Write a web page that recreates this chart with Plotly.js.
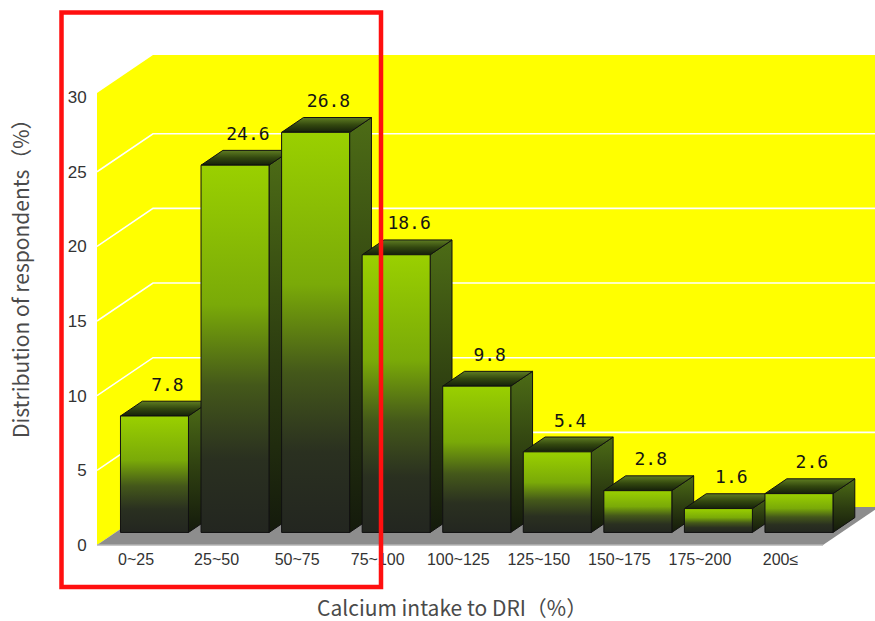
<!DOCTYPE html>
<html>
<head>
<meta charset="utf-8">
<script src="https://cdn.plot.ly/plotly-3.0.1.min.js"></script>
<style>
  html, body { margin: 0; padding: 0; background: #ffffff; }
  #chart { width: 875px; height: 621px; }
</style>
</head>
<body>
<div id="chart"></div>
<script>
// Calcium intake relative to DRI: share of respondents per band
const categories = ['0~25', '25~50', '50~75', '75~100', '100~125', '125~150', '150~175', '175~200', '200≤'];
const values = [7.8, 24.6, 26.8, 18.6, 9.8, 5.4, 2.8, 1.6, 2.6];
const yTicks = [0, 5, 10, 15, 20, 25, 30];
const xTitle = 'Calcium intake to DRI（%）';
const yTitle = 'Distribution of respondents（%）';

// ---- page geometry (pixels) ----
const W = 875, H = 621;
const M = { l: 97, r: 0, t: 40, b: 73 };
const plotW = W - M.l - M.r, plotH = H - M.t - M.b;
const PX_PER_CAT = 80.56;     // horizontal pixels per category
const PX_PER_UNIT = 14.93;    // vertical pixels per percent
const CAT0_PX = 136;          // front-plane centre of the first category
const ZERO_PX = 545;          // front-plane baseline

// axis ranges derived from the geometry
const xRange = [(M.l - CAT0_PX) / PX_PER_CAT, (W - M.r - CAT0_PX) / PX_PER_CAT];
const yRange = [(ZERO_PX - (H - M.b)) / PX_PER_UNIT, (ZERO_PX - M.t) / PX_PER_UNIT];

// oblique depth: full depth moves 56px right and 38px up
const DX = 56 / PX_PER_CAT, DY = 38 / PX_PER_UNIT;
const P = (x, y, z) => [x + z * DX, y + z * DY];

// box placement inside the depth
const Z0 = 0.33, Z1 = 0.72, HALF = 34 / PX_PER_CAT;
const WALL_TOP = 30.27;
const FLOOR_L = xRange[0], FLOOR_R = (823 - CAT0_PX) / PX_PER_CAT;

const traces = [];
function poly(pts, opts) {
  const xs = [], ys = [];
  pts.forEach(p => { const q = P(p[0], p[1], p[2]); xs.push(q[0]); ys.push(q[1]); });
  xs.push(xs[0]); ys.push(ys[0]);
  traces.push(Object.assign({
    type: 'scatter', mode: 'lines', x: xs, y: ys, fill: 'toself',
    hoverinfo: 'skip', showlegend: false
  }, opts));
}

// walls
poly([[FLOOR_L, 0, 0], [FLOOR_L, 0, 1], [FLOOR_L, WALL_TOP, 1], [FLOOR_L, WALL_TOP, 0]],
  { fillcolor: '#ffff00', line: { width: 0, color: '#ffff00' } });
poly([[FLOOR_L, 0, 1], [xRange[1] + 1, 0, 1], [xRange[1] + 1, WALL_TOP, 1], [FLOOR_L, WALL_TOP, 1]],
  { fillcolor: '#ffff00', line: { width: 0, color: '#ffff00' } });

// grid lines along the walls
yTicks.filter(v => v > 0 && v < 30).forEach(v => {
  const a = P(FLOOR_L, v, 0), b = P(FLOOR_L, v, 1), c = P(xRange[1] + 1, v, 1);
  traces.push({
    type: 'scatter', mode: 'lines', x: [a[0], b[0], c[0]], y: [a[1], b[1], c[1]],
    line: { color: '#ffffff', width: 1.6 }, hoverinfo: 'skip', showlegend: false
  });
});

// floor
poly([[FLOOR_L, 0, 0], [FLOOR_R, 0, 0], [FLOOR_R, 0, 1], [FLOOR_L, 0, 1]],
  { fillcolor: '#8d8d8d', line: { width: 0, color: '#8d8d8d' } });
traces.push({
  type: 'scatter', mode: 'lines', x: [FLOOR_L, FLOOR_R], y: [0, 0],
  line: { color: '#b4b4b4', width: 1.5 }, hoverinfo: 'skip', showlegend: false
});

// boxes, left to right so each front face covers the previous side face
const edge = { color: '#111111', width: 1 };
values.forEach((v, i) => {
  const l = i - HALF, r = i + HALF;
  poly([[r, 0, Z0], [r, 0, Z1], [r, v, Z1], [r, v, Z0]], {
    line: edge,
    fillgradient: { type: 'vertical', colorscale: [[0, '#141a0c'], [0.45, '#2c3c10'], [1, '#4d6c16']] }
  });
  poly([[l, v, Z0], [r, v, Z0], [r, v, Z1], [l, v, Z1]], {
    line: edge,
    fillgradient: { type: 'vertical', colorscale: [[0, '#15200a'], [0.5, '#33480f'], [1, '#5f7d22']] }
  });
  poly([[l, 0, Z0], [r, 0, Z0], [r, v, Z0], [l, v, Z0]], {
    line: edge,
    fillgradient: { type: 'vertical', colorscale: [[0, '#232620'], [0.2, '#2a3020'], [0.4, '#44581a'], [0.62, '#7aaa08'], [1, '#9ad000']] }
  });
});

// value labels above each box
const lab = values.map((v, i) => P(i, v, (Z0 + Z1) / 2));
traces.push({
  type: 'scatter', mode: 'text',
  x: lab.map(p => p[0] + 2 / PX_PER_CAT),
  y: values.map((v, i) => P(i, v, Z1)[1] + 15 / PX_PER_UNIT),
  text: values.map(v => v.toFixed(1)),
  textposition: 'middle center',
  textfont: { family: 'DejaVu Sans Mono, monospace', size: 18, color: '#141414' },
  hoverinfo: 'skip', showlegend: false, cliponaxis: false
});

const px2paperX = px => (px - M.l) / plotW;
const px2paperY = py => (H - M.b - py) / plotH;

const titleFont = { family: 'Noto Sans CJK JP, Noto Sans, sans-serif', size: 21, color: '#4a4a4a' };

const layout = {
  width: W, height: H, margin: M,
  paper_bgcolor: '#ffffff', plot_bgcolor: '#ffffff',
  xaxis: {
    range: xRange, tickmode: 'array', tickvals: categories.map((_, i) => i), ticktext: categories,
    showgrid: false, zeroline: false, showline: false, ticks: '',
    tickfont: { family: 'Liberation Sans, Arial, sans-serif', size: 16, color: '#333333' },
    fixedrange: true
  },
  yaxis: {
    range: yRange, tickmode: 'array', tickvals: yTicks, ticktext: yTicks.map(String),
    showgrid: false, zeroline: false, showline: false,
    ticks: 'outside', ticklen: 6, tickcolor: 'rgba(0,0,0,0)',
    tickfont: { family: 'Liberation Sans, Arial, sans-serif', size: 17, color: '#333333' },
    fixedrange: true
  },
  annotations: [
    { text: xTitle, xref: 'paper', yref: 'paper', x: px2paperX(452), y: px2paperY(607),
      xanchor: 'center', yanchor: 'middle', showarrow: false, font: titleFont },
    { text: yTitle, xref: 'paper', yref: 'paper', x: px2paperX(20), y: px2paperY(273),
      xanchor: 'center', yanchor: 'middle', textangle: -90, showarrow: false, font: titleFont }
  ],
  shapes: [
    { type: 'rect', xref: 'paper', yref: 'paper', layer: 'above',
      x0: px2paperX(61.5), x1: px2paperX(381), y0: px2paperY(12.5), y1: px2paperY(587),
      line: { color: '#ff0f0f', width: 4.5 }, fillcolor: 'rgba(0,0,0,0)' }
  ]
};

Plotly.newPlot('chart', traces, layout, { displayModeBar: false, staticPlot: true });
</script>
</body>
</html>
